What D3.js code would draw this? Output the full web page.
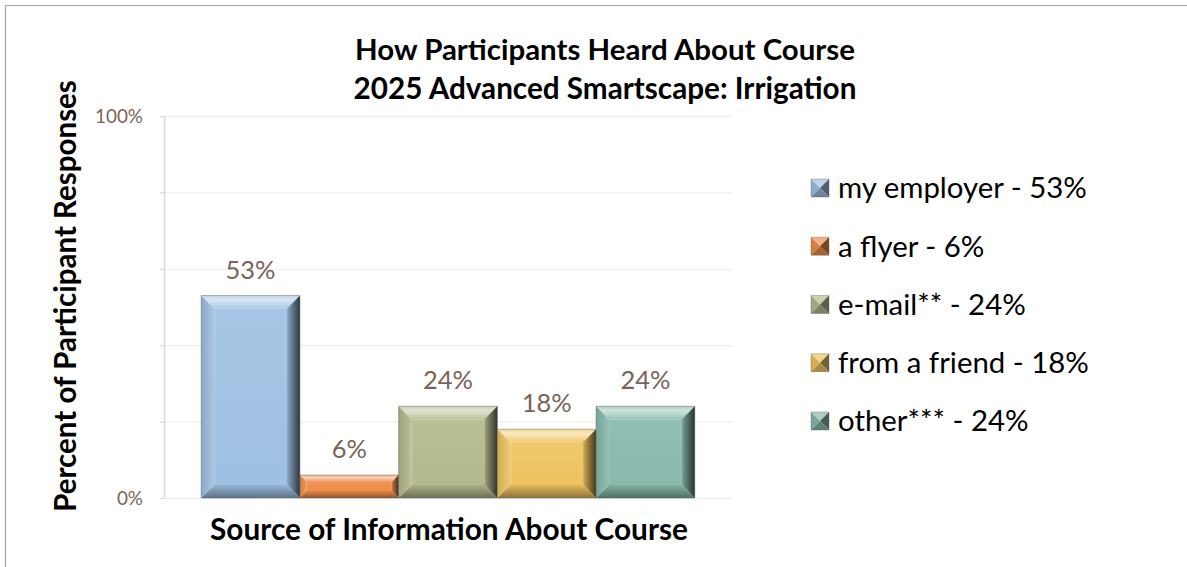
<!DOCTYPE html>
<html>
<head>
<meta charset="utf-8">
<script src="https://cdn.jsdelivr.net/npm/d3@7"></script>
<style>
  body { margin: 0; background: #fff; }
  svg { display: block; font-family: Lato, "Open Sans", sans-serif; }
</style>
</head>
<body>
<div id="wrapper"></div>
<script>
const categories = ["my employer", "a flyer", "e-mail**", "from a friend", "other***"];
const values = [53, 6, 24, 18, 24];
const barColors = ["#9ec0e2", "#ef8b49", "#b4b98d", "#eec360", "#87b9ac"];
const yTicks = [0, 20, 40, 60, 80, 100];
const yTickLabels = ["0%", "", "", "", "", "100%"];
const titleLines = ["How Participants Heard About Course", "2025 Advanced Smartscape: Irrigation"];

function draw() {
    const dimensions = {
        width: 1187,
        height: 567,
        plot: { left: 164, right: 732, top: 116, bottom: 498 },
    };
    const labelColor = "#7b6258";

    const wrapper = d3.select("#wrapper")
        .append("svg")
        .attr("width", dimensions.width)
        .attr("height", dimensions.height);

    const defs = wrapper.append("defs");

    // scale the font so the text spans a given width
    const fit = (sel, target) => {
        const fs = parseFloat(sel.attr("font-size"));
        const w = sel.node().getComputedTextLength();
        sel.attr("font-size", fs * target / w);
        return sel;
    };

    // chart border (only top and left are visible)
    wrapper.append("path")
        .attr("d", `M5.5,${dimensions.height} V5.5 H${dimensions.width}`)
        .attr("fill", "none")
        .attr("stroke", "#a6a6a6")
        .attr("stroke-width", 1.2);

    const yScale = d3.scaleLinear()
        .domain([0, 100])
        .range([dimensions.plot.bottom, dimensions.plot.top]);

    const xScale = d3.scaleBand()
        .domain(categories)
        .range([dimensions.plot.left, dimensions.plot.right])
        .paddingInner(0)
        .paddingOuter(0.377);

    // gridlines
    const grid = wrapper.append("g")
        .attr("transform", `translate(${dimensions.plot.left},0)`)
        .call(d3.axisLeft(yScale)
            .tickValues(yTicks)
            .tickSize(-(dimensions.plot.right - dimensions.plot.left))
            .tickFormat(""));
    grid.select(".domain").remove();
    grid.selectAll(".tick line").attr("stroke", "#efefef").attr("stroke-width", 1.3);

    // y axis
    const yAxis = wrapper.append("g")
        .attr("transform", `translate(${dimensions.plot.left},0)`)
        .call(d3.axisLeft(yScale)
            .tickValues(yTicks)
            .tickSize(4)
            .tickSizeOuter(0)
            .tickPadding(17)
            .tickFormat((d, i) => yTickLabels[i]));
    yAxis.select(".domain").attr("stroke", "#d9d9d9").attr("stroke-width", 1.5);
    yAxis.selectAll(".tick line").attr("stroke", "#d9d9d9").attr("stroke-width", 1.3);
    const tickText = yAxis.selectAll(".tick text")
        .attr("font-size", 17)
        .attr("font-family", "Lato, sans-serif")
        .attr("fill", labelColor);
    const topTick = tickText.filter(d => d === 100);
    fit(topTick, 48);
    tickText.attr("font-size", topTick.attr("font-size"));

    // colour helpers
    const mix = (c, target, t) => d3.interpolateRgb(c, target)(t);
    const lighter = (c, t) => mix(c, "#ffffff", t);
    const darker = (c, t) => mix(c, "#000000", t);

    barColors.forEach((c, i) => {
        const topG = defs.append("linearGradient").attr("id", `top-${i}`)
            .attr("x1", 0).attr("y1", 0).attr("x2", 0).attr("y2", 1);
        topG.append("stop").attr("offset", "0%").attr("stop-color", lighter(c, 0.35));
        topG.append("stop").attr("offset", "35%").attr("stop-color", lighter(c, 0.6));
        topG.append("stop").attr("offset", "100%").attr("stop-color", lighter(c, 0.12));

        const rightG = defs.append("linearGradient").attr("id", `right-${i}`)
            .attr("x1", 0).attr("y1", 0).attr("x2", 1).attr("y2", 0);
        rightG.append("stop").attr("offset", "0%").attr("stop-color", darker(c, 0.12));
        rightG.append("stop").attr("offset", "100%").attr("stop-color", darker(c, 0.72));

        const leftG = defs.append("linearGradient").attr("id", `left-${i}`)
            .attr("x1", 0).attr("y1", 0).attr("x2", 1).attr("y2", 0);
        leftG.append("stop").attr("offset", "0%").attr("stop-color", darker(c, 0.12));
        leftG.append("stop").attr("offset", "100%").attr("stop-color", lighter(c, 0.12));

        const bottomG = defs.append("linearGradient").attr("id", `bottom-${i}`)
            .attr("x1", 0).attr("y1", 0).attr("x2", 0).attr("y2", 1);
        bottomG.append("stop").attr("offset", "0%").attr("stop-color", darker(c, 0.05));
        bottomG.append("stop").attr("offset", "100%").attr("stop-color", darker(c, 0.4));

        const faceG = defs.append("linearGradient").attr("id", `face-${i}`)
            .attr("x1", 0).attr("y1", 0).attr("x2", 0).attr("y2", 1);
        faceG.append("stop").attr("offset", "0%").attr("stop-color", lighter(c, 0.08));
        faceG.append("stop").attr("offset", "100%").attr("stop-color", c);
    });

    // bevelled bars
    const bars = wrapper.append("g").attr("class", "bins")
        .selectAll("g")
        .data(categories)
        .join("g");

    bars.each(function (d, i) {
        const g = d3.select(this);
        const x = xScale(d);
        const w = xScale.bandwidth();
        const y = yScale(values[i]);
        const h = yScale(0) - y;
        const b = Math.min(13, h * 0.3);
        const pts = arr => arr.map(p => p.join(",")).join(" ");

        g.append("rect")
            .attr("x", x + b).attr("y", y + b)
            .attr("width", w - 2 * b).attr("height", h - 2 * b)
            .attr("fill", `url(#face-${i})`);
        g.append("polygon")
            .attr("points", pts([[x, y], [x + w, y], [x + w - b, y + b], [x + b, y + b]]))
            .attr("fill", `url(#top-${i})`);
        g.append("polygon")
            .attr("points", pts([[x, y], [x + b, y + b], [x + b, y + h - b], [x, y + h]]))
            .attr("fill", `url(#left-${i})`);
        g.append("polygon")
            .attr("points", pts([[x + w, y], [x + w, y + h], [x + w - b, y + h - b], [x + w - b, y + b]]))
            .attr("fill", `url(#right-${i})`);
        g.append("polygon")
            .attr("points", pts([[x, y + h], [x + b, y + h - b], [x + w - b, y + h - b], [x + w, y + h]]))
            .attr("fill", `url(#bottom-${i})`);
        g.append("rect")
            .attr("x", x).attr("y", y)
            .attr("width", w).attr("height", h)
            .attr("fill", "none")
            .attr("stroke", "rgba(90,90,90,0.45)")
            .attr("stroke-width", 1);
    });

    // value labels
    const valueLabels = wrapper.append("g")
        .selectAll("text")
        .data(categories)
        .join("text")
        .attr("x", d => xScale(d) + xScale.bandwidth() / 2)
        .attr("y", (d, i) => yScale(values[i]) - 17)
        .attr("text-anchor", "middle")
        .attr("font-size", 23)
        .attr("fill", labelColor)
        .text((d, i) => `${values[i]}%`);
    const firstLabel = valueLabels.filter((d, i) => i === 0);
    fit(firstLabel, 50);
    valueLabels.attr("font-size", firstLabel.attr("font-size"));

    // title
    const titleCenter = 605;
    fit(wrapper.append("text")
        .attr("x", titleCenter).attr("y", 60)
        .attr("text-anchor", "middle")
        .attr("font-weight", "bold")
        .attr("font-size", 26)
        .attr("fill", "#000")
        .text(titleLines[0]), 500);
    fit(wrapper.append("text")
        .attr("x", titleCenter).attr("y", 99)
        .attr("text-anchor", "middle")
        .attr("font-weight", "bold")
        .attr("font-size", 26)
        .attr("fill", "#000")
        .text(titleLines[1]), 503);

    // axis titles
    fit(wrapper.append("text")
        .attr("transform", "translate(76,296) rotate(-90)")
        .attr("text-anchor", "middle")
        .attr("font-weight", "bold")
        .attr("font-size", 26)
        .attr("fill", "#000")
        .text("Percent of Participant Responses"), 432);
    fit(wrapper.append("text")
        .attr("x", 449).attr("y", 540)
        .attr("text-anchor", "middle")
        .attr("font-weight", "bold")
        .attr("font-size", 26)
        .attr("fill", "#000")
        .text("Source of Information About Course"), 478);

    // legend
    const legendRowY = d3.scalePoint()
        .domain(categories)
        .range([188, 421]);
    const legend = wrapper.append("g")
        .selectAll("g")
        .data(categories)
        .join("g")
        .attr("transform", d => `translate(811,${legendRowY(d)})`);

    legend.each(function (d, i) {
        const g = d3.select(this);
        const s = 18, h = s / 2, c = barColors[i];
        g.append("polygon").attr("points", `0,${-h} ${s},${-h} ${h},0`).attr("fill", lighter(c, 0.3));
        g.append("polygon").attr("points", `0,${-h} ${h},0 0,${h}`).attr("fill", darker(c, 0.1));
        g.append("polygon").attr("points", `${s},${-h} ${s},${h} ${h},0`).attr("fill", darker(c, 0.5));
        g.append("polygon").attr("points", `0,${h} ${h},0 ${s},${h}`).attr("fill", darker(c, 0.3));
        g.append("rect").attr("x", 0).attr("y", -h).attr("width", s).attr("height", s)
            .attr("fill", "none").attr("stroke", "rgba(80,80,80,0.4)").attr("stroke-width", 0.8);
    });

    const legendText = legend.append("text")
        .attr("x", 27)
        .attr("dy", "0.35em")
        .attr("font-size", 24)
        .attr("fill", "#000")
        .text((d, i) => `${d} - ${values[i]}%`);
    const first = legendText.filter((d, i) => i === 0);
    fit(first, 249);
    legendText.attr("font-size", first.attr("font-size"));
}
draw();
</script>
</body>
</html>
